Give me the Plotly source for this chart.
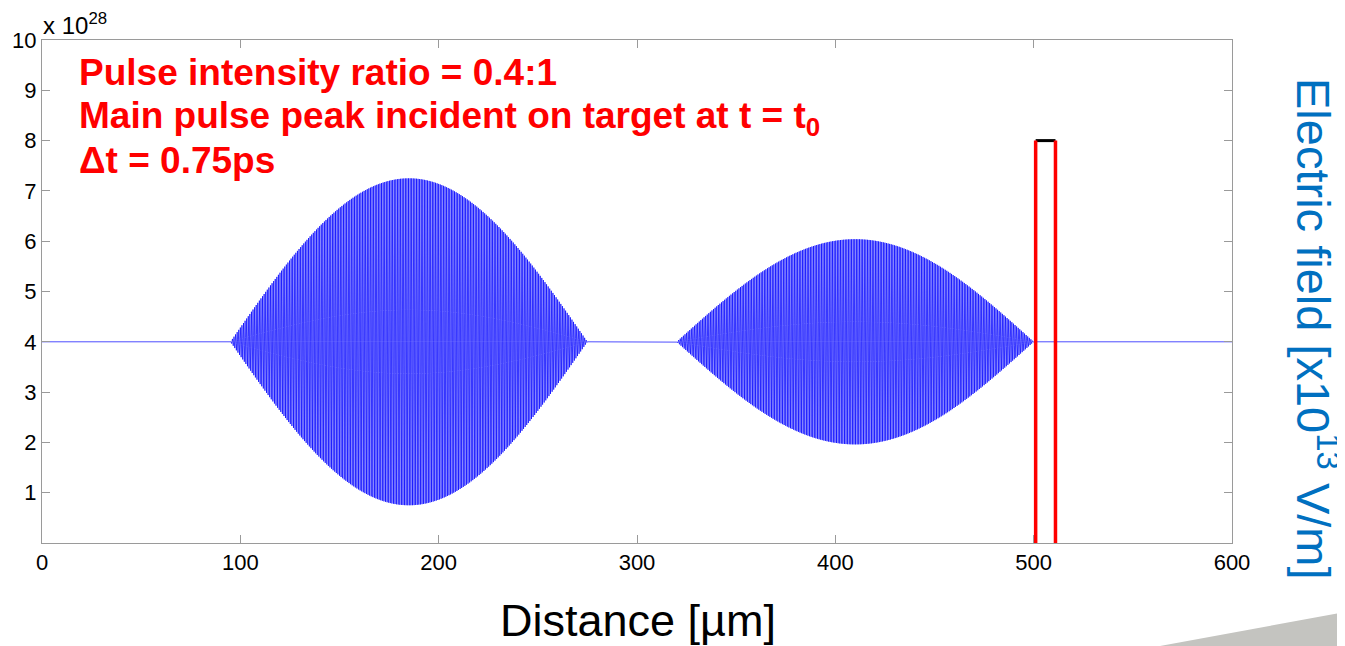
import numpy as np
import plotly.graph_objects as go

# ---- data (y in units of 1e28) ----
x_range = [0, 600]
y_range = [0, 10]
x_ticks = [0, 100, 200, 300, 400, 500, 600]
y_ticks = [1, 2, 3, 4, 5, 6, 7, 8, 9, 10]
baseline = 4.0
pulse_start = [95.0, 320.0]
pulse_end = [275.0, 500.0]
pulse_amp = [3.25, 2.04]
carrier_period = 0.8          # um
target_x = [501.0, 511.0]
target_top = 8.0

# ---- build the field trace (model pulses on a baseline) ----
x = np.linspace(x_range[0], x_range[1], 24001)
y = np.full_like(x, baseline)
for s, e, a in zip(pulse_start, pulse_end, pulse_amp):
    m = (x >= s) & (x <= e)
    env = a * np.sin(np.pi * (x[m] - s) / (e - s))
    y[m] = baseline + env * np.sin(2 * np.pi * (x[m] - s) / carrier_period)

fig = go.Figure()
fig.add_trace(go.Scatter(x=x, y=y, mode="lines",
                         line=dict(color="#0000ff", width=0.7),
                         hoverinfo="skip", showlegend=False))
# target
fig.add_trace(go.Scatter(x=target_x, y=[target_top, target_top], mode="lines",
                         line=dict(color="black", width=3), showlegend=False))
for tx in target_x:
    fig.add_trace(go.Scatter(x=[tx, tx], y=[y_range[0], target_top], mode="lines",
                             line=dict(color="#ff0000", width=3.5), showlegend=False))

OFF = 8  # browser body margin
W, H = 1345 - OFF, 646 - OFF
L, T = 42 - OFF, 40 - OFF
pw, ph = 1190, 503
R = W - L - pw
B = H - T - ph

def px(xp):
    return (xp - OFF - L) / pw

def py(yp):
    return (T + ph - (yp - OFF)) / ph

axis_common = dict(showgrid=False, zeroline=False, showline=True, linecolor="#9a9a9a",
                   linewidth=1, mirror="ticks", ticks="inside", ticklen=8,
                   tickcolor="#9a9a9a", automargin=False,
                   tickfont=dict(family="Liberation Sans, Arial", size=22, color="black"))

fig.update_layout(
    width=W, height=H,
    margin=dict(l=L, r=R, t=T, b=B, pad=0, autoexpand=False),
    paper_bgcolor="white", plot_bgcolor="white",
    xaxis=dict(range=x_range, tickvals=x_ticks, **axis_common),
    yaxis=dict(range=y_range, tickvals=y_ticks, **axis_common),
    font=dict(family="Liberation Sans, Arial"),
)

red_font = dict(family="Liberation Sans, Arial", size=37, color="#ff0000")
lines = ["<b>Pulse intensity ratio = 0.4:1</b>",
         "<b>Main pulse peak incident on target at t = t<sub>0</sub></b>",
         "<b>Δt = 0.75ps</b>"]
ys = [73, 118, 160]
for t, yy in zip(lines, ys):
    fig.add_annotation(x=px(77), y=py(yy), xref="paper", yref="paper", text=t,
                       showarrow=False, xanchor="left", yanchor="middle", font=red_font)

fig.add_annotation(x=px(41), y=py(24), xref="paper", yref="paper",
                   text="x 10<sup>28</sup>", showarrow=False, xanchor="left",
                   yanchor="middle", font=dict(family="Liberation Sans, Arial", size=24, color="black"))

fig.add_annotation(x=px(638), y=py(620), xref="paper", yref="paper",
                   text="Distance [µm]", showarrow=False, xanchor="center", yanchor="middle",
                   font=dict(family="Liberation Sans, Arial", size=45, color="black"))

fig.add_annotation(x=px(1317), y=py(329), xref="paper", yref="paper",
                   text="Electric field [x10<sup>13</sup> V/m]", showarrow=False,
                   textangle=90, xanchor="center", yanchor="middle",
                   font=dict(family="Liberation Sans, Arial", size=47, color="#0070c0"))

# decorative slide wedge
fig.add_shape(type="path", xref="paper", yref="paper",
              path=f"M {px(1160)} {py(646)} L {px(1345)} {py(612)} L {px(1345)} {py(646)} Z",
              fillcolor="#c4c4c0", line=dict(width=0), layer="above")

fig.write_html("out.html")
